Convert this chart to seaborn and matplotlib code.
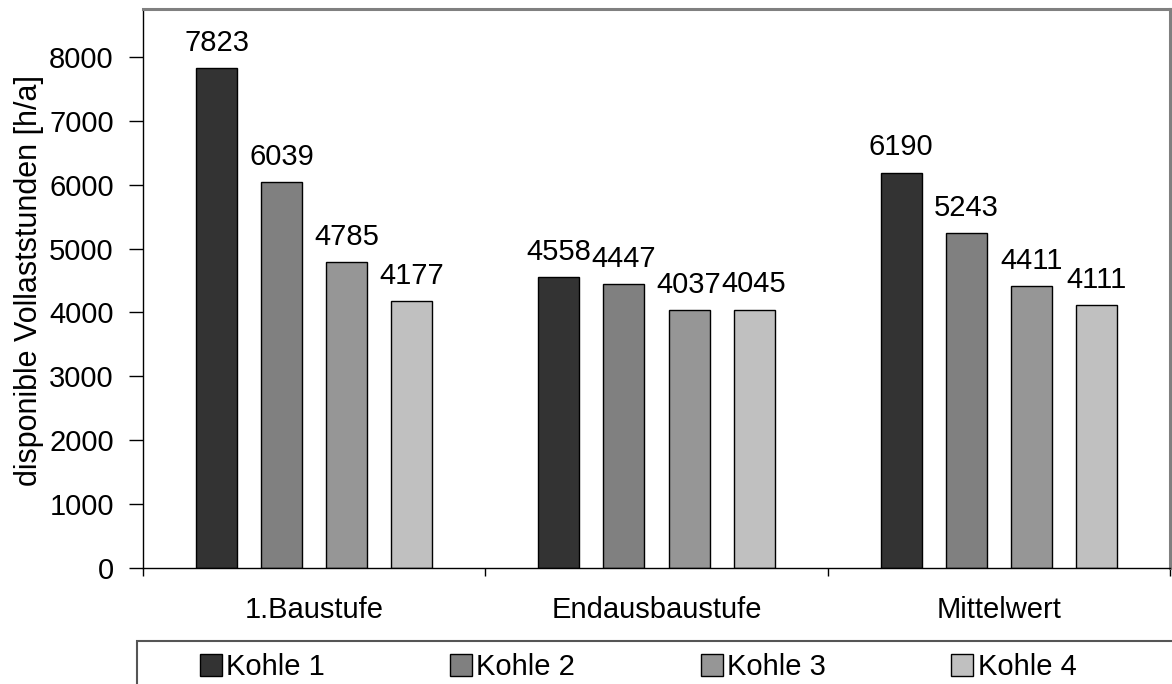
import numpy as np
import pandas as pd
import matplotlib
matplotlib.use("Agg")
import matplotlib.pyplot as plt
from matplotlib.patches import Rectangle
import seaborn as sns

stufen = ["1.Baustufe", "Endausbaustufe", "Mittelwert"]
kohlen = ["Kohle 1", "Kohle 2", "Kohle 3", "Kohle 4"]
kohle1 = [7823, 4558, 6190]
kohle2 = [6039, 4447, 5243]
kohle3 = [4785, 4037, 4411]
kohle4 = [4177, 4045, 4111]
y_ticks = [0, 1000, 2000, 3000, 4000, 5000, 6000, 7000, 8000]

colors = ["#333333", "#808080", "#969696", "#c0c0c0"]

rows = []
for name, vals in zip(kohlen, [kohle1, kohle2, kohle3, kohle4]):
    for stufe, v in zip(stufen, vals):
        rows.append({"Stufe": stufe, "Kohle": name, "Stunden": v})
df = pd.DataFrame(rows)

sns.set_style("white")
plt.rcParams["font.family"] = ["Liberation Sans", "DejaVu Sans"]
plt.rcParams["text.color"] = "black"
plt.rcParams["axes.labelcolor"] = "black"
plt.rcParams["xtick.color"] = "black"
plt.rcParams["ytick.color"] = "black"
FS = 21

fig = plt.figure(figsize=(11.72, 6.84), dpi=100)
ax = fig.add_axes([143 / 1172, 1 - 568 / 684, 1027 / 1172, 559 / 684])

sns.barplot(data=df, x="Stufe", y="Stunden", hue="Kohle", order=stufen,
            hue_order=kohlen, palette=colors, width=0.76, gap=0.37,
            edgecolor="black", linewidth=1, saturation=1, ax=ax)

handles, labels = ax.get_legend_handles_labels()
ax.legend_.remove()

for cont in ax.containers:
    ax.bar_label(cont, fmt="%d", padding=8, fontsize=FS, color="black")

ax.set_xlim(-0.5, 2.5)
ax.set_ylim(0, 8750)
ax.set_yticks(y_ticks)
ax.set_xticks([0, 1, 2])
ax.set_xticklabels(stufen)
ax.set_xticks([-0.5, 0.5, 1.5, 2.5], minor=True)
ax.tick_params(axis="x", which="major", length=0, pad=20, labelsize=FS)
ax.tick_params(axis="x", which="minor", length=6, width=1, color="black",
               direction="out", bottom=True)
ax.tick_params(axis="y", length=10, width=1, color="black", direction="out",
               pad=11, labelsize=FS, left=True)
ax.set_xlabel("")
ax.set_ylabel("disponible Vollaststunden [h/a]", fontsize=22)
ax.yaxis.set_label_coords(-0.096, 0.515)

for s in ["left", "bottom"]:
    ax.spines[s].set_color("black")
    ax.spines[s].set_linewidth(1)
for s in ["top", "right"]:
    ax.spines[s].set_color("#808080")
    ax.spines[s].set_linewidth(2.2)

box = Rectangle((137 / 1172, -0.1), 1.1, 0.1 + (684 - 641) / 684,
                transform=fig.transFigure, facecolor="white",
                edgecolor="#555555", linewidth=1.5, clip_on=False)
fig.patches.append(box)

fig.legend(handles, labels, loc="center",
           bbox_to_anchor=(638 / 1172, 1 - 667 / 684), ncol=4,
           frameon=False, fontsize=FS, handlelength=0.75, handleheight=0.75,
           handletextpad=0.15, columnspacing=4.3)

fig.savefig("out.png", dpi=100)
